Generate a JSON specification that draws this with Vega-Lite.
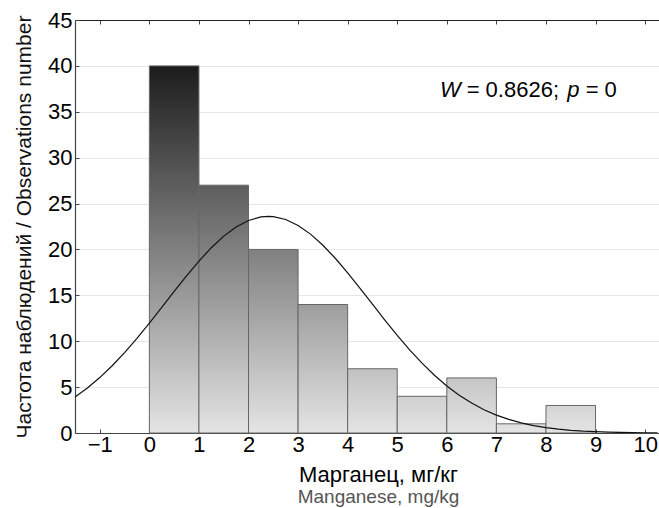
{
  "$schema": "https://vega.github.io/schema/vega-lite/v6.json",
  "width": 585,
  "height": 413,
  "autosize": {"type": "none"},
  "padding": {"left": 75, "top": 20, "right": 0, "bottom": 75},
  "background": "white",
  "config": {"view": {"stroke": null}, "font": "Liberation Sans"},
  "title": {
    "text": "Марганец, мг/кг",
    "subtitle": "Manganese, mg/kg",
    "orient": "bottom",
    "anchor": "middle",
    "frame": "group",
    "fontSize": 22,
    "fontWeight": "normal",
    "color": "#000000",
    "subtitleFontSize": 19,
    "subtitleColor": "#555555",
    "subtitlePadding": 1,
    "dx": 11,
    "offset": 10
  },
  "datasets": {
    "hist": [
      {"bin_start": 0, "bin_end": 1, "count": 40},
      {"bin_start": 1, "bin_end": 2, "count": 27},
      {"bin_start": 2, "bin_end": 3, "count": 20},
      {"bin_start": 3, "bin_end": 4, "count": 14},
      {"bin_start": 4, "bin_end": 5, "count": 7},
      {"bin_start": 5, "bin_end": 6, "count": 4},
      {"bin_start": 6, "bin_end": 7, "count": 6},
      {"bin_start": 7, "bin_end": 8, "count": 1},
      {"bin_start": 8, "bin_end": 9, "count": 3}
    ],
    "curve": [
      {"x": -1.5, "y": 3.93}, {"x": -1.25, "y": 4.91}, {"x": -1.0, "y": 6.04}, {"x": -0.75, "y": 7.33},
      {"x": -0.5, "y": 8.76}, {"x": -0.25, "y": 10.32}, {"x": 0.0, "y": 11.97}, {"x": 0.25, "y": 13.69},
      {"x": 0.5, "y": 15.42}, {"x": 0.75, "y": 17.12}, {"x": 1.0, "y": 18.73}, {"x": 1.25, "y": 20.19},
      {"x": 1.5, "y": 21.45}, {"x": 1.75, "y": 22.45}, {"x": 2.0, "y": 23.16}, {"x": 2.25, "y": 23.54},
      {"x": 2.4, "y": 23.6}, {"x": 2.5, "y": 23.57}, {"x": 2.75, "y": 23.26}, {"x": 3.0, "y": 22.62},
      {"x": 3.25, "y": 21.67}, {"x": 3.5, "y": 20.46}, {"x": 3.75, "y": 19.04}, {"x": 4.0, "y": 17.45},
      {"x": 4.25, "y": 15.77}, {"x": 4.5, "y": 14.04}, {"x": 4.75, "y": 12.31}, {"x": 5.0, "y": 10.64},
      {"x": 5.25, "y": 9.06}, {"x": 5.5, "y": 7.61}, {"x": 5.75, "y": 6.29}, {"x": 6.0, "y": 5.13},
      {"x": 6.25, "y": 4.12}, {"x": 6.5, "y": 3.26}, {"x": 6.75, "y": 2.54}, {"x": 7.0, "y": 1.95},
      {"x": 7.25, "y": 1.48}, {"x": 7.5, "y": 1.1}, {"x": 7.75, "y": 0.81}, {"x": 8.0, "y": 0.59},
      {"x": 8.25, "y": 0.42}, {"x": 8.5, "y": 0.29}, {"x": 8.75, "y": 0.2}, {"x": 9.0, "y": 0.14},
      {"x": 9.25, "y": 0.094}, {"x": 9.5, "y": 0.062}, {"x": 9.75, "y": 0.041}, {"x": 10.0, "y": 0.026},
      {"x": 10.25, "y": 0.016}
    ],
    "note": [
      {"part": "W", "text": "W", "x": 5.861, "y": 36.6},
      {"part": "eq1", "text": "= 0.8626;", "x": 6.40, "y": 36.6},
      {"part": "p", "text": "p", "x": 8.43, "y": 36.6},
      {"part": "eq2", "text": "= 0", "x": 8.80, "y": 36.6}
    ]
  },
  "resolve": {"axis": {"x": "independent"}},
  "layer": [
    {
      "data": {"name": "hist"},
      "mark": {"type": "rect", "stroke": "#666666", "strokeWidth": 1},
      "encoding": {
        "x": {
          "field": "bin_start",
          "type": "quantitative",
          "scale": {"domain": [-1.5, 10.3], "nice": false, "zero": false},
          "axis": {
            "orient": "bottom",
            "title": null,
            "values": [-1, 0, 1, 2, 3, 4, 5, 6, 7, 8, 9, 10],
            "grid": false,
            "labelFontSize": 22,
            "labelColor": "#000000",
            "labelPadding": 5,
            "labelFlush": false,
            "tickSize": -4,
            "tickColor": "#444444",
            "domainColor": "#444444",
            "domainWidth": 1.2
          }
        },
        "x2": {"field": "bin_end"},
        "y": {
          "field": "count",
          "type": "quantitative",
          "scale": {"domain": [0, 45], "nice": false},
          "axis": {
            "title": "Частота наблюдений / Observations number",
            "titleFontSize": 21,
            "titleFontWeight": "normal",
            "titleColor": "#111111",
            "titlePadding": 13,
            "values": [0, 5, 10, 15, 20, 25, 30, 35, 40, 45],
            "grid": true,
            "gridColor": "#e6e6e6",
            "gridWidth": 1,
            "labelFontSize": 22,
            "labelColor": "#000000",
            "labelPadding": 7,
            "tickSize": -4,
            "tickColor": "#444444",
            "domainColor": "#444444",
            "domainWidth": 1.2
          }
        },
        "y2": {"datum": 0},
        "fill": {
          "condition": [
            {"test": "datum.count == 40", "value": {"gradient": "linear", "x1": 0, "y1": 0, "x2": 0, "y2": 1, "stops": [{"offset": 0, "color": "#1c1c1c"}, {"offset": 1, "color": "#e4e4e4"}]}},
            {"test": "datum.count == 27", "value": {"gradient": "linear", "x1": 0, "y1": 0, "x2": 0, "y2": 1, "stops": [{"offset": 0, "color": "#5d5d5d"}, {"offset": 1, "color": "#e4e4e4"}]}},
            {"test": "datum.count == 20", "value": {"gradient": "linear", "x1": 0, "y1": 0, "x2": 0, "y2": 1, "stops": [{"offset": 0, "color": "#808080"}, {"offset": 1, "color": "#e4e4e4"}]}},
            {"test": "datum.count == 14", "value": {"gradient": "linear", "x1": 0, "y1": 0, "x2": 0, "y2": 1, "stops": [{"offset": 0, "color": "#9e9e9e"}, {"offset": 1, "color": "#e4e4e4"}]}},
            {"test": "datum.count == 7", "value": {"gradient": "linear", "x1": 0, "y1": 0, "x2": 0, "y2": 1, "stops": [{"offset": 0, "color": "#c1c1c1"}, {"offset": 1, "color": "#e4e4e4"}]}},
            {"test": "datum.count == 6", "value": {"gradient": "linear", "x1": 0, "y1": 0, "x2": 0, "y2": 1, "stops": [{"offset": 0, "color": "#c6c6c6"}, {"offset": 1, "color": "#e4e4e4"}]}},
            {"test": "datum.count == 4", "value": {"gradient": "linear", "x1": 0, "y1": 0, "x2": 0, "y2": 1, "stops": [{"offset": 0, "color": "#d0d0d0"}, {"offset": 1, "color": "#e4e4e4"}]}},
            {"test": "datum.count == 3", "value": {"gradient": "linear", "x1": 0, "y1": 0, "x2": 0, "y2": 1, "stops": [{"offset": 0, "color": "#d5d5d5"}, {"offset": 1, "color": "#e4e4e4"}]}}
          ],
          "value": {"gradient": "linear", "x1": 0, "y1": 0, "x2": 0, "y2": 1, "stops": [{"offset": 0, "color": "#dfdfdf"}, {"offset": 1, "color": "#e4e4e4"}]}
        }
      }
    },
    {
      "data": {"name": "curve"},
      "mark": {"type": "line", "color": "#111111", "strokeWidth": 1.2, "clip": true},
      "encoding": {
        "x": {
          "field": "x",
          "type": "quantitative",
          "axis": {
            "orient": "top",
            "title": null,
            "labels": false,
            "grid": false,
            "values": [-1, 0, 1, 2, 3, 4, 5, 6, 7, 8, 9, 10],
            "tickSize": -4,
            "tickColor": "#444444",
            "domainColor": "#222222",
            "domainWidth": 1.2
          }
        },
        "y": {"field": "y", "type": "quantitative"}
      }
    },
    {
      "data": {"name": "note"},
      "transform": [{"filter": "datum.part == 'W' || datum.part == 'p'"}],
      "mark": {"type": "text", "align": "left", "baseline": "alphabetic", "fontSize": 22, "fontStyle": "italic", "color": "#000000"},
      "encoding": {
        "x": {"field": "x", "type": "quantitative", "axis": null},
        "y": {"field": "y", "type": "quantitative"},
        "text": {"field": "text"}
      }
    },
    {
      "data": {"name": "note"},
      "transform": [{"filter": "datum.part == 'eq1' || datum.part == 'eq2'"}],
      "mark": {"type": "text", "align": "left", "baseline": "alphabetic", "fontSize": 22, "color": "#000000"},
      "encoding": {
        "x": {"field": "x", "type": "quantitative", "axis": null},
        "y": {"field": "y", "type": "quantitative"},
        "text": {"field": "text"}
      }
    }
  ]
}
